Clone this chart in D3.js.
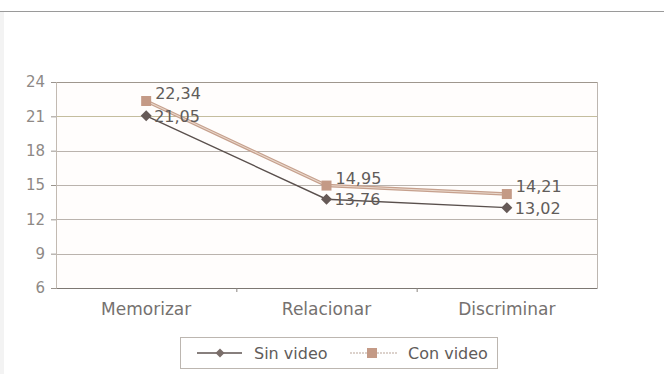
<!DOCTYPE html>
<html>
<head>
<meta charset="utf-8">
<script src="https://cdn.jsdelivr.net/npm/d3@7"></script>
<style>
  html, body { margin: 0; padding: 0; background: #ffffff; }
  svg { display: block; }
  text { font-family: "DejaVu Sans", sans-serif; }
</style>
</head>
<body>
<script>
// ---- Data ----
const categories = ["Memorizar", "Relacionar", "Discriminar"];
const sinVideo = [21.05, 13.76, 13.02];
const conVideo = [22.34, 14.95, 14.21];
const seriesNames = ["Sin video", "Con video"];
const yTicks = [6, 9, 12, 15, 18, 21, 24];
const fmt = v => v.toFixed(2).replace(".", ",");

const W = 664, H = 374;
const margin = { left: 56, right: 67, top: 82, bottom: 86 };
const plotW = W - margin.left - margin.right;   // 541
const plotH = H - margin.top - margin.bottom;   // 206

const svg = d3.select("body").append("svg").attr("width", W).attr("height", H);

// page decoration
svg.append("rect").attr("x", 0).attr("y", 0).attr("width", W).attr("height", H).attr("fill", "#ffffff");
svg.append("rect").attr("x", 0).attr("y", 12).attr("width", 4).attr("height", H - 12).attr("fill", "#f3f3f3");
svg.append("line").attr("x1", 0).attr("x2", W).attr("y1", 11.5).attr("y2", 11.5)
  .attr("stroke", "#9a9a9a").attr("stroke-width", 1);

const x = d3.scaleBand().domain(categories).range([0, plotW]).padding(0);
const y = d3.scaleLinear().domain([6, 24]).range([plotH, 0]);

const g = svg.append("g").attr("transform", `translate(${margin.left},${margin.top})`);

// plot background
g.append("rect").attr("width", plotW).attr("height", plotH).attr("fill", "#fffdfc");

// gridlines
g.append("g").selectAll("line").data(yTicks.filter(t => t > 6)).join("line")
  .attr("x1", 0).attr("x2", plotW)
  .attr("y1", d => Math.round(y(d)) + 0.5).attr("y2", d => Math.round(y(d)) + 0.5)
  .attr("stroke", d => d === 24 ? "#9f978e" : (d === 21 ? "#c4bd9e" : "#bab3ad"))
  .attr("stroke-width", 1);

// right border
g.append("line").attr("x1", plotW + 0.5).attr("x2", plotW + 0.5).attr("y1", 0).attr("y2", plotH)
  .attr("stroke", "#bdb6b0");

// y axis
const yAxis = g.append("g").call(d3.axisLeft(y).tickValues(yTicks).tickSize(5).tickPadding(6).tickFormat(d3.format("d")));
yAxis.select(".domain").attr("stroke", "#c2bab2");
yAxis.selectAll(".tick line").attr("stroke", "#9a948e");
yAxis.selectAll("text").attr("fill", "#8e8986").attr("font-size", 15);

// x axis
const xAxis = g.append("g").attr("transform", `translate(0,${plotH})`)
  .call(d3.axisBottom(x).tickSize(0).tickPadding(15));
xAxis.select(".domain").attr("stroke", "#7d7772").attr("stroke-width", 1.2);
xAxis.selectAll("text").attr("fill", "#75716f").attr("font-size", 17);
// band boundary tick marks
g.append("g").selectAll("line").data(categories.slice(1)).join("line")
  .attr("x1", d => x(d) + 0.5).attr("x2", d => x(d) + 0.5)
  .attr("y1", plotH).attr("y2", plotH + 4)
  .attr("stroke", "#8a847f");

const cx = d => x(d) + x.bandwidth() / 2;
const diamond = r => `M0,${-r}L${r},0L0,${r}L${-r},0Z`;

// lines
const line = d3.line().x(d => cx(d.c)).y(d => y(d.v));
const sinData = categories.map((c, i) => ({ c, v: sinVideo[i] }));
const conData = categories.map((c, i) => ({ c, v: conVideo[i] }));

g.append("path").datum(conData).attr("d", line).attr("fill", "none")
  .attr("stroke", "#c6a08d").attr("stroke-width", 3.4);
g.append("path").datum(conData).attr("d", line).attr("fill", "none")
  .attr("stroke", "#ead9cd").attr("stroke-width", 1.1);
g.append("path").datum(sinData).attr("d", line).attr("fill", "none")
  .attr("stroke", "#5a504d").attr("stroke-width", 1.4);

// markers
g.append("g").selectAll("rect").data(conData).join("rect")
  .attr("x", d => cx(d.c) - 5).attr("y", d => y(d.v) - 5)
  .attr("width", 10).attr("height", 10).attr("fill", "#c49a86");
g.append("g").selectAll("path").data(sinData).join("path")
  .attr("d", diamond(5.5))
  .attr("transform", d => `translate(${cx(d.c)},${y(d.v)})`)
  .attr("fill", "#665a57");

// data labels
g.append("g").selectAll("text").data(conData).join("text")
  .attr("x", d => cx(d.c) + 9).attr("y", d => y(d.v) - 2)
  .attr("font-size", 16).attr("fill", "#615c5a").text(d => fmt(d.v));
g.append("g").selectAll("text").data(sinData).join("text")
  .attr("x", d => cx(d.c) + 8).attr("y", d => y(d.v) + 6)
  .attr("font-size", 16).attr("fill", "#615c5a").text(d => fmt(d.v));

// legend
const leg = svg.append("g");
leg.append("rect").attr("x", 180.5).attr("y", 337.5).attr("width", 317).attr("height", 31)
  .attr("fill", "#ffffff").attr("stroke", "#bcb6b0");
const ly = 353;
leg.append("line").attr("x1", 197).attr("x2", 242).attr("y1", ly).attr("y2", ly)
  .attr("stroke", "#5f5552").attr("stroke-width", 1.4);
leg.append("path").attr("d", diamond(4.5)).attr("transform", `translate(220,${ly})`)
  .attr("fill", "#7a6e6a");
leg.append("text").attr("x", 254).attr("y", ly + 6).attr("font-size", 16).attr("fill", "#615c5a").text(seriesNames[0]);
leg.append("line").attr("x1", 350).attr("x2", 397).attr("y1", ly).attr("y2", ly)
  .attr("stroke", "#b9a69a").attr("stroke-width", 1.2).attr("stroke-dasharray", "2,1");
leg.append("rect").attr("x", 367).attr("y", ly - 5).attr("width", 10).attr("height", 10).attr("fill", "#c49a86");
leg.append("text").attr("x", 408).attr("y", ly + 6).attr("font-size", 16).attr("fill", "#615c5a").text(seriesNames[1]);
</script>
</body>
</html>
